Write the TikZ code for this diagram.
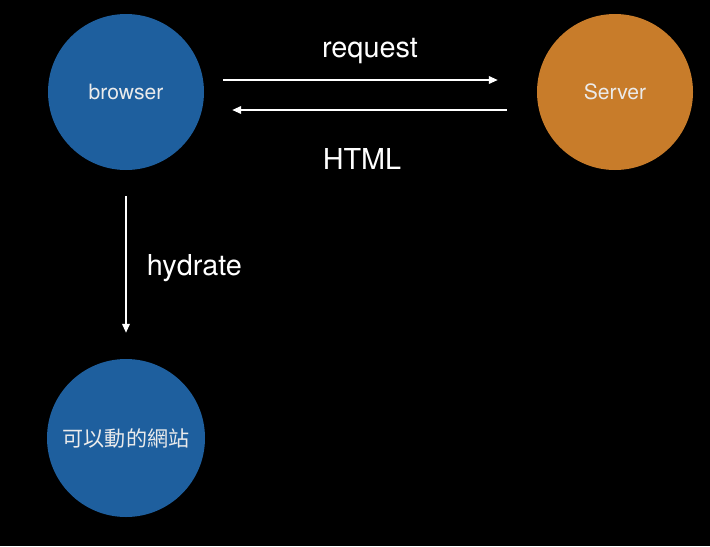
\documentclass[tikz,border=0pt]{standalone}
\usepackage{fontspec}
\setmainfont{TeX Gyre Heros}
\newfontfamily\cjk{Noto Sans CJK TC}
\usetikzlibrary{arrows.meta,calc,positioning}
\definecolor{bubbleblue}{RGB}{30,95,158}
\definecolor{bubbleorange}{RGB}{200,124,42}
\definecolor{softwhite}{RGB}{235,235,235}

\begin{document}
\begin{tikzpicture}[scale=1.0,
	bubble/.style={circle,minimum size=3.9cm,inner sep=0pt,text=softwhite,font=\fontsize{15}{18}\selectfont},
	flow/.style={draw=white,line width=1pt,-{Triangle[length=2.2mm,width=1.9mm]}},
	tag/.style={text=white,font=\fontsize{20.5}{24}\selectfont}]
\fill[black] (0,0) rectangle (17.75,-13.65);
\node[bubble,fill=bubbleblue] (browser) at (3.15,-2.3) {browser};
\node[bubble,fill=bubbleorange] (server) at (15.375,-2.3) {Server};
\node[bubble,fill=bubbleblue,minimum size=3.95cm] (site) at (3.15,-10.95) {\cjk 可以動的網站};
\draw [flow, shorten <=0.475cm, shorten >=0.975cm] ([yshift=0.3cm]browser.east) -- ([yshift=0.3cm]server.west);
\draw [flow, shorten <=0.75cm, shorten >=0.7cm] ([yshift=-0.45cm]server.west) -- ([yshift=-0.45cm]browser.east);
\draw [flow, shorten <=0.65cm, shorten >=0.65cm] (browser.south) -- (site.north);
\node[tag] (req) at (9.25,-1.27) {request};
\node[tag] (html) at (9.05,-3.97) {HTML};
\node[tag,anchor=west] (hyd) at (3.55,-6.7) {hydrate};
\end{tikzpicture}
\end{document}
